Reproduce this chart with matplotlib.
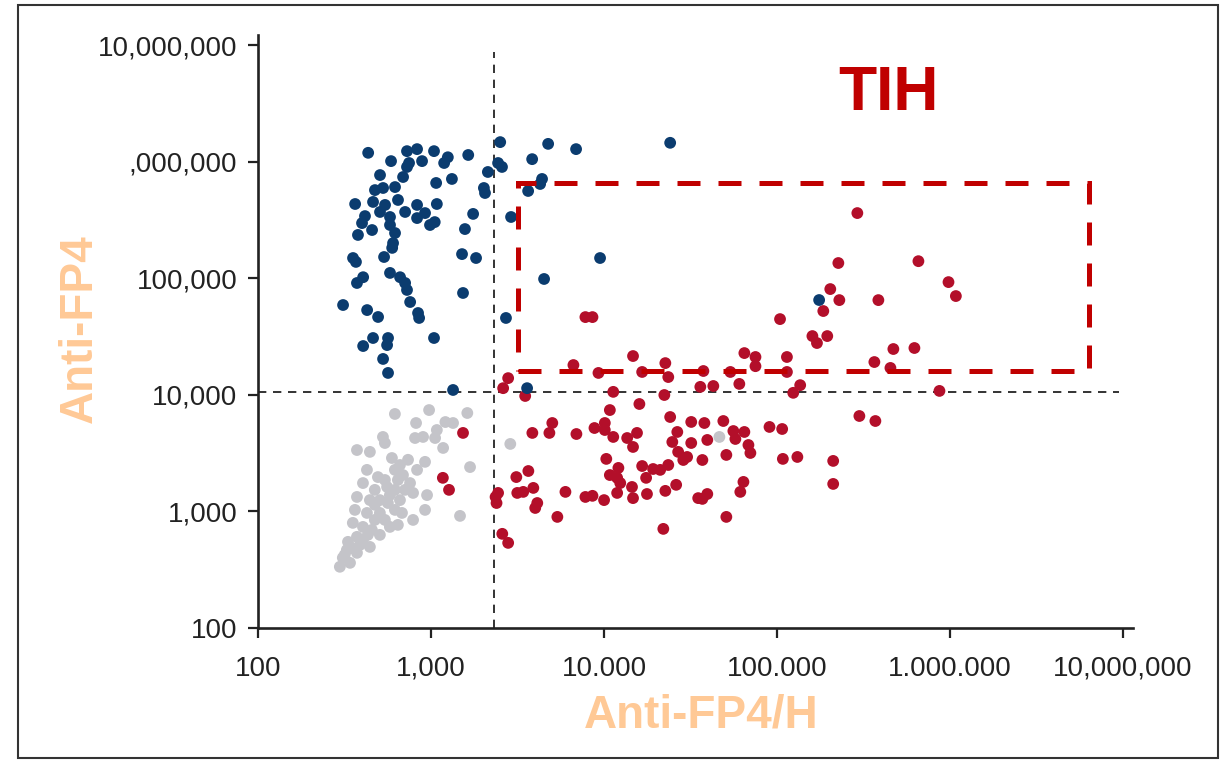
import matplotlib
matplotlib.use("Agg")
import matplotlib.pyplot as plt
from matplotlib.patches import Rectangle
from matplotlib.ticker import FixedLocator, NullLocator

plt.rcParams['font.family'] = ['Liberation Sans', 'DejaVu Sans']

# ---------------- data ----------------
blue_x = [433, 587, 726, 830, 887, 1040, 1250, 1190, 1640, 507,
          726, 689, 746, 1320, 1070, 2020, 2130, 2510, 2440, 2570,
          474, 528, 619, 364, 462, 542, 644, 1080, 507, 579,
          708, 830, 830, 923, 986, 1050, 1750, 415, 399, 456,
          378, 579, 619, 603, 596, 1570, 2900, 354, 368, 535,
          1510, 1820, 579, 662, 708, 405, 373, 726, 1530, 310,
          427, 494, 757, 841, 853, 2710, 462, 564, 405, 557,
          1040, 528, 564, 1340, 2050, 4750, 6890, 24100, 3840, 4380,
          4270, 3640, 9480, 4500, 175000, 3590]
blue_y = [1.19e6, 1.01e6, 1.23e6, 1.28e6, 1.01e6, 1.23e6, 1.09e6, 9.73e5, 1.14e6, 7.67e5,
          9.0e5, 7.38e5, 9.73e5, 7.10e5, 6.56e5, 5.94e5, 8.15e5, 1.47e6, 9.73e5, 9.0e5,
          5.70e5, 5.94e5, 6.05e5, 4.33e5, 4.51e5, 4.25e5, 4.69e5, 4.33e5, 3.70e5, 3.35e5,
          3.70e5, 4.25e5, 3.28e5, 3.62e5, 2.86e5, 3.03e5, 3.56e5, 3.41e5, 2.97e5, 2.59e5,
          2.35e5, 2.86e5, 2.44e5, 2.00e5, 1.82e5, 2.64e5, 3.35e5, 1.49e5, 1.38e5, 1.52e5,
          1.61e5, 1.49e5, 1.11e5, 1.02e5, 9.1e4, 1.02e5, 9.1e4, 7.93e4, 7.47e4, 5.89e4,
          5.33e4, 4.65e4, 6.25e4, 5.03e4, 4.56e4, 4.56e4, 3.07e4, 3.07e4, 2.62e4, 2.67e4,
          3.07e4, 2.03e4, 1.54e4, 1.10e4, 5.38e5, 1.42e6, 1.28e6, 1.45e6, 1.05e6, 7.10e5,
          6.43e5, 5.60e5, 1.49e5, 9.85e4, 6.50e4, 1.14e4]

grey_x = [618, 974, 1620, 819, 1210, 1340, 1080, 808, 899, 527,
          541, 1055, 1174, 2870, 373, 443, 594, 1680, 923, 830,
          688, 426, 493, 404, 557, 756, 787, 948, 373, 443,
          563, 661, 679, 787, 923, 1470, 363, 426, 353, 506,
          578, 643, 404, 373, 331, 404, 443, 326, 373, 309,
          297, 340, 46400, 473, 618, 506, 473, 541, 618, 707,
          455, 506, 388, 349, 431, 541, 618, 661, 736, 578,
          317, 473, 643]
grey_y = [6850, 7400, 6980, 5730, 5840, 5730, 4990, 4260, 4350, 4350,
          3860, 4260, 3500, 3790, 3360, 3240, 2870, 2400, 2660, 2270,
          2050, 2270, 1970, 1750, 1620, 1750, 1440, 1380, 1330, 1250,
          1180, 1250, 970, 845, 1030, 915, 1030, 970, 797, 970,
          736, 766, 736, 605, 548, 570, 496, 467, 441, 400,
          335, 362, 4350, 1530, 1530, 1250, 845, 845, 1030, 1530,
          694, 629, 516, 486, 629, 1860, 2270, 2500, 2770, 1380,
          424, 1140, 1860]

red_x = [7800, 8570, 14700, 6650, 22600, 16600, 23500, 9280, 37500, 42800,
         36000, 2790, 2610, 11300, 226000, 656000, 979000, 1.08e6, 203000, 229000,
         385000, 185000, 104000, 160000, 170000, 195000, 470000, 622000, 365000, 452000,
         64700, 75000, 75000, 114000, 114000, 53700, 60500, 136000, 124000, 868000,
         299000, 370000, 38000, 48900, 39500, 55900, 64700, 57400, 68300, 70100,
         50900, 37000, 90400, 107000, 108000, 131000, 211000, 211000, 63900, 61300,
         39500, 37000, 50900, 291000, 3500, 22300, 16000, 10800, 24100, 31900,
         31900, 26500, 24800, 26800, 30200, 28700, 5020, 4830, 3850, 6920,
         8800, 10100, 10100, 11300, 13600, 15500, 14700, 10300, 16600, 19200,
         21100, 23500, 12100, 10800, 11900, 12400, 17500, 3650, 3110, 3900,
         3410, 3150, 2440, 2360, 2390, 4110, 4000, 5980, 7800, 8570,
         10000, 11900, 14500, 14700, 17700, 22600, 26100, 35000, 5370, 22000,
         2580, 2790, 1530, 1170, 1270]
red_y = [46400, 46400, 21500, 18000, 18700, 15700, 14200, 15400, 16000, 11900,
         11700, 13900, 11400, 10600, 135000, 140000, 92600, 70300, 80700, 64900,
         64900, 52300, 44600, 31900, 27800, 31900, 24700, 25200, 19100, 17000,
         22800, 21100, 17600, 21100, 15700, 15700, 12400, 12100, 10400, 10800,
         6580, 5960, 5730, 5960, 4100, 4890, 4800, 4180, 3710, 3170,
         3050, 2760, 5300, 5090, 2820, 2930, 2710, 1720, 1790, 1470,
         1410, 1280, 897, 362000, 9770, 9960, 8340, 7400, 6450, 5850,
         3860, 4800, 3940, 3240, 2930, 2760, 5730, 4710, 4710, 4610,
         5190, 5730, 4990, 4350, 4260, 4710, 3570, 2820, 2450, 2310,
         2270, 2500, 2360, 2050, 1940, 1750, 1940, 2220, 1970, 1590,
         1470, 1440, 1440, 1330, 1180, 1180, 1070, 1470, 1330, 1360,
         1250, 1440, 1620, 1300, 1410, 1500, 1690, 1300, 897, 708,
         642, 537, 4710, 1940, 1530]

x_ticks = [1e2, 1e3, 1e4, 1e5, 1e6, 1e7]
x_tick_labels = ["100", "1,000", "10.000", "100.000", "1.000.000", "10,000,000"]
y_ticks = [1e2, 1e3, 1e4, 1e5, 1e6, 1e7]
y_tick_labels = ["100", "1,000", "10,000", "100,000", ",000,000", "10,000,000"]

x_cut = 2300        # vertical dashed threshold
y_cut = 10500       # horizontal dashed threshold
tih_box_x = (3180, 6.35e6)
tih_box_y = (16000, 6.55e5)

# ---------------- figure ----------------
fig = plt.figure(figsize=(12.3, 7.6), dpi=100)
fig.patch.set_facecolor("white")

ax = fig.add_axes([0.2098, 0.1737, 0.7114, 0.7803])
ax.set_xscale("log")
ax.set_yscale("log")
ax.set_xlim(100, 1.142e7)
ax.set_ylim(100, 1.22e7)

ms = 72
ax.scatter(grey_x, grey_y, s=ms, color="#C4C4C9", edgecolors="none", zorder=3)
ax.scatter(red_x, red_y, s=ms, color="#B30F2A", edgecolors="none", zorder=4)
ax.scatter(blue_x, blue_y, s=ms, color="#0B3C6F", edgecolors="none", zorder=5)

# dashed thresholds
ax.plot([x_cut, x_cut], [100, 8.7e6], color="#111111", lw=1.2,
        linestyle=(0, (5, 4)), zorder=2, clip_on=False)
ax.plot([100, 9.5e6], [y_cut, y_cut], color="#111111", lw=1.2,
        linestyle=(0, (5, 4)), zorder=2, clip_on=False)

# TIH rectangle
rect = Rectangle((tih_box_x[0], tih_box_y[0]), tih_box_x[1] - tih_box_x[0],
                 tih_box_y[1] - tih_box_y[0], fill=False, edgecolor="#C00000",
                 lw=3.6, linestyle=(0, (4.6, 3.6)), zorder=6)
ax.add_patch(rect)

# spines / ticks
for s in ["top", "right"]:
    ax.spines[s].set_visible(False)
for s in ["left", "bottom"]:
    ax.spines[s].set_linewidth(1.9)
    ax.spines[s].set_color("#222222")

ax.xaxis.set_major_locator(FixedLocator(x_ticks))
ax.yaxis.set_major_locator(FixedLocator(y_ticks))
ax.xaxis.set_minor_locator(NullLocator())
ax.yaxis.set_minor_locator(NullLocator())
ax.set_xticklabels(x_tick_labels)
ax.set_yticklabels(y_tick_labels)
ax.tick_params(axis="both", which="major", direction="out", length=7, width=1.6,
               color="#222222", labelsize=20, labelcolor="#222222")
ax.tick_params(axis="x", pad=13)
ax.tick_params(axis="y", pad=8)

# texts
fig.text(0.722, 0.8776, "TIH", color="#C00000", fontsize=45, fontweight="bold",
         ha="center", va="center")
fig.text(0.570, 0.058, "Anti-FP4/H", color="#FFC996", fontsize=33, fontweight="bold",
         ha="center", va="center")
fig.text(0.065, 0.567, "Anti-FP4", color="#FFC996", fontsize=33, fontweight="bold",
         ha="center", va="center", rotation=90)

# outer frame
frame = Rectangle((0.0146, 0.0026), 0.9756, 0.9908, transform=fig.transFigure,
                  fill=False, edgecolor="#333333", lw=1.5)
fig.patches.append(frame)

fig.savefig("out.png", dpi=100)
